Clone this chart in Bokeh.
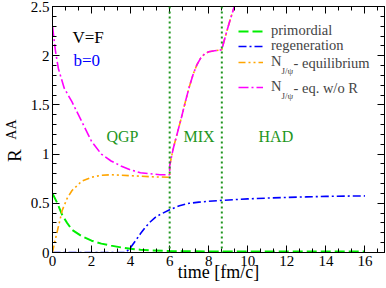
import math
from bokeh.plotting import figure
from bokeh.models import (Range1d, LinearAxis, SingleIntervalTicker, FixedTicker, Label, Legend,
                          LegendItem, Span, CustomJSTickFormatter)
from bokeh.embed import file_html
from bokeh.resources import INLINE

# ---------------- data ----------------
t_prim = [0, 0.25, 0.5, 0.75, 1.0, 1.5, 2.0, 2.5, 3.0, 3.5, 4.0, 4.5, 5.0, 6.0, 7.0, 8.0, 10, 12, 14, 16]
r_prim = [0.60, 0.50, 0.38, 0.30, 0.23, 0.165, 0.12, 0.09, 0.07, 0.052, 0.038, 0.028, 0.022, 0.015, 0.012, 0.01, 0.01, 0.01, 0.01, 0.01]

t_regen = [0, 3.75, 4.0, 4.25, 4.5, 4.75, 5.0, 5.25, 5.5, 6.0, 6.5, 7.0, 7.5, 8.0, 8.67, 10, 11, 12, 13, 14, 15, 16]
r_regen = [0, 0, 0.05, 0.12, 0.19, 0.255, 0.31, 0.355, 0.385, 0.435, 0.475, 0.50, 0.512, 0.52, 0.53, 0.545, 0.553, 0.56, 0.565, 0.57, 0.573, 0.575]

t_eq = [0, 0.07, 0.25, 0.5, 0.75, 1.0, 1.5, 2.0, 2.5, 3.0, 3.5, 4.0, 4.5, 5.0, 5.5, 6.0,
        6.0, 6.1, 6.2, 6.4, 6.6, 6.8, 7.0, 7.2, 7.4, 7.6, 7.8, 8.0, 8.3, 8.67, 8.8, 9.0, 9.2, 9.4, 9.8]
r_eq = [0, 0.07, 0.22, 0.43, 0.55, 0.63, 0.725, 0.765, 0.785, 0.79, 0.785, 0.78, 0.775, 0.77, 0.767, 0.765,
        0.88, 0.98, 1.07, 1.22, 1.37, 1.53, 1.68, 1.81, 1.91, 1.98, 2.02, 2.04, 2.05, 2.06, 2.16, 2.30, 2.43, 2.56, 2.80]

t_eqnoR = [0, 0.15, 0.3, 0.6, 1.0, 1.5, 2.0, 2.5, 3.0, 3.5, 4.0, 4.5, 5.0, 5.5, 6.0,
           6.0, 6.1, 6.2, 6.4, 6.6, 6.8, 7.0, 7.2, 7.4, 7.6, 7.8, 8.0, 8.3, 8.67, 8.8, 9.0, 9.2, 9.4, 9.8]
r_eqnoR = [2.30, 2.05, 1.87, 1.67, 1.53, 1.33, 1.13, 1.0, 0.93, 0.88, 0.84, 0.81, 0.80, 0.79, 0.79,
           0.88, 0.98, 1.07, 1.22, 1.37, 1.53, 1.68, 1.81, 1.91, 1.98, 2.02, 2.04, 2.05, 2.06, 2.16, 2.30, 2.43, 2.56, 2.80]

phase_bounds = [6.0, 8.67]
phase_names = ["QGP", "MIX", "HAD"]
phase_label_x = [2.76, 6.71, 10.55]

x_ticks_interval = 2
y_ticks_interval = 0.5

# ---------------- styles ----------------
SERIF = "Liberation Serif, Times New Roman, DejaVu Serif, serif"
GREEN_TXT = "#1e961e"
C_PRIM = "#00ee00"
C_REG = "#0000ff"
C_EQ = "#ffa500"
C_NOR = "#ff00ff"

# frame in page pixels: left 52, right 384, top 6, bottom 252
FL, FR, FT, FB = 52, 384, 6, 252
W, H = 386, 288

p = figure(width=W, height=H, x_range=Range1d(0, 17), y_range=Range1d(0, 2.5),
           output_backend="svg", toolbar_location=None,
           min_border_left=FL, min_border_right=W - FR, min_border_top=FT, min_border_bottom=H - FB)
p.xgrid.visible = False
p.ygrid.visible = False
p.outline_line_color = "black"
p.background_fill_color = "white"
p.border_fill_color = "white"

xt = SingleIntervalTicker(interval=x_ticks_interval, num_minor_ticks=3)
yt = SingleIntervalTicker(interval=y_ticks_interval, num_minor_ticks=5)

def style_axis(ax, show_labels):
    ax.major_tick_in = 7
    ax.major_tick_out = 0
    ax.minor_tick_in = 4
    ax.minor_tick_out = 0
    ax.axis_line_color = "black"
    ax.major_tick_line_color = "black"
    ax.minor_tick_line_color = "black"
    ax.axis_label_text_font = SERIF
    ax.axis_label_text_font_style = "normal"
    ax.axis_label_text_color = "black"
    if show_labels:
        ax.major_label_text_font = SERIF
        ax.major_label_text_font_size = "15px"
        ax.major_label_text_color = "black"
        ax.major_label_standoff = 3
    else:
        ax.formatter = CustomJSTickFormatter(code="return ''")
        ax.major_label_text_font_size = "0px"
        ax.major_label_standoff = 0

p.xaxis.ticker = xt
p.yaxis.ticker = yt
style_axis(p.xaxis[0], True)
style_axis(p.yaxis[0], True)
p.yaxis[0].formatter = CustomJSTickFormatter(code="return tick == Math.round(tick) ? tick.toFixed(0) : tick.toFixed(1)")

# axis titles: "time [fm/c]" below, subscript "AA" on the main y axis
p.xaxis[0].axis_label = "time [fm/c]"
p.xaxis[0].axis_label_text_font_size = "18px"
p.xaxis[0].axis_label_standoff = -7
p.yaxis[0].axis_label = "AA"
p.yaxis[0].axis_label_text_font_size = "14px"
p.yaxis[0].axis_label_standoff = 9

# a bare extra left axis that only carries the big "R" of R_AA
# (no-break spaces push the centred "R" down to where it sits in the original)
r_axis = LinearAxis(ticker=FixedTicker(ticks=[], minor_ticks=[]),
                    axis_label="R" + "\u00a0" * 11, axis_line_color=None, major_tick_line_color=None,
                    minor_tick_line_color=None, major_label_text_font_size="0px",
                    major_label_standoff=0, major_tick_in=0, major_tick_out=0,
                    minor_tick_in=0, minor_tick_out=0,
                    axis_label_text_font=SERIF, axis_label_text_font_style="normal",
                    axis_label_text_font_size="19px", axis_label_text_color="black",
                    axis_label_standoff=-24)
p.add_layout(r_axis, "left")

top = LinearAxis(ticker=SingleIntervalTicker(interval=x_ticks_interval, num_minor_ticks=3))
right = LinearAxis(ticker=SingleIntervalTicker(interval=y_ticks_interval, num_minor_ticks=5))
style_axis(top, False)
style_axis(right, False)
p.add_layout(top, "above")
p.add_layout(right, "right")

# phase boundaries
for b in phase_bounds:
    p.add_layout(Span(location=b, dimension="height", line_color=GREEN_TXT,
                      line_width=2, line_dash="2 3"))

# curves
r1 = p.line(t_prim, r_prim, line_color=C_PRIM, line_width=2, line_dash="10 4")
r2 = p.line(t_regen, r_regen, line_color=C_REG, line_width=1.6, line_dash="8 3 2 3")
r3 = p.line(t_eq, r_eq, line_color=C_EQ, line_width=1.6, line_dash="7 3 2 3 2 3")
r4 = p.line(t_eqnoR, r_eqnoR, line_color=C_NOR, line_width=1.6, line_dash="10 3 2 3")

# legends: one per row (rows are unevenly spaced in the original)
row_centers = [31, 46, 62, 87]
labels = ["primordial", "regeneration", "N", "N"]
rends = [r1, r2, r3, r4]
ROW_H = 16
for lab, rr, cy in zip(labels, rends, row_centers):
    lg = Legend(items=[LegendItem(label=lab, renderers=[rr])],
                location=(238 - FL, FB - (cy + ROW_H / 2)),
                padding=0, margin=0, spacing=0, border_line_color=None,
                background_fill_alpha=0, glyph_width=25, glyph_height=ROW_H,
                label_height=ROW_H, label_standoff=8,
                label_text_font=SERIF, label_text_font_size="14.5px",
                label_text_baseline="middle")
    p.add_layout(lg, "center")

def px2x(px):
    return (px - FL) / ((FR - FL) / 17)

def py2y(py):
    return (FB - py) / ((FB - FT) / 2.5)

# subscripts and remainder of the N_J/psi entries
for cy, rest in [(62, "- equilibrium"), (87, "- eq. w/o R")]:
    p.add_layout(Label(x=px2x(281), y=py2y(cy + 8.5), text="J/ψ", text_font=SERIF,
                       text_font_size="9px", text_baseline="alphabetic", text_align="left"))
    p.add_layout(Label(x=px2x(293), y=py2y(cy), text=rest, text_font=SERIF,
                       text_font_size="14.5px", text_baseline="middle", text_align="left"))

# annotations
p.add_layout(Label(x=px2x(72), y=py2y(37), text="V=F", text_font=SERIF,
                   text_font_size="17px", text_color="black", text_baseline="alphabetic"))
p.add_layout(Label(x=px2x(73), y=py2y(60), text="b=0", text_font=SERIF,
                   text_font_size="17px", text_color="blue", text_baseline="alphabetic"))
for name, lx in zip(phase_names, phase_label_x):
    p.add_layout(Label(x=lx, y=py2y(136), text=name, text_font=SERIF,
                       text_font_size="16px", text_color=GREEN_TXT, text_baseline="alphabetic"))

open("out.html", "w").write(file_html(p, INLINE))
